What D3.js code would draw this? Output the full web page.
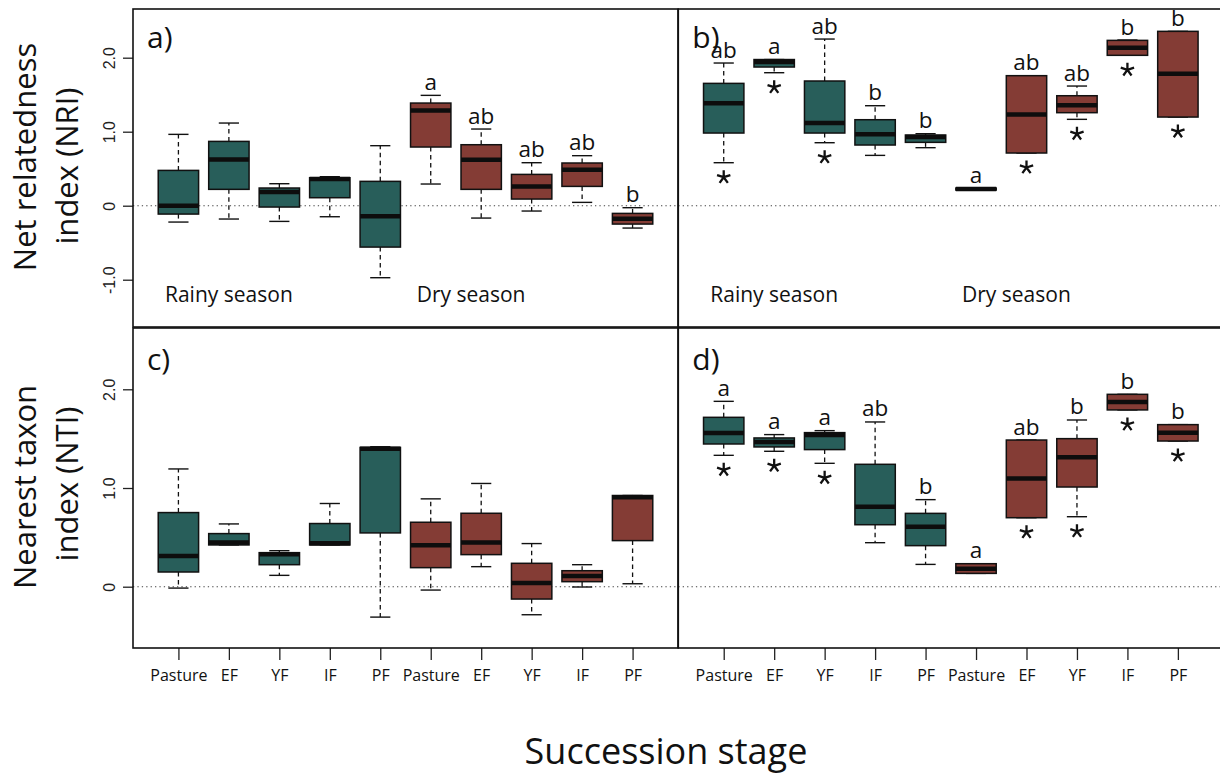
<!DOCTYPE html>
<html><head><meta charset="utf-8">
<script src="https://cdn.jsdelivr.net/npm/d3@7"></script>
<style>body{margin:0;background:#fff}svg{display:block}</style>
</head><body>
<svg id="chart" width="1220" height="774"></svg>
<script>
// ---------- data ----------
const stages = ["Pasture","EF","YF","IF","PF","Pasture","EF","YF","IF","PF"];
const seasons = ["Rainy","Rainy","Rainy","Rainy","Rainy","Dry","Dry","Dry","Dry","Dry"];
// each box: [min, q1, median, q3, max]
const nriPanelA = [
  [-0.221,-0.113, 0.000, 0.477, 0.964],
  [-0.180, 0.221, 0.626, 0.869, 1.117],
  [-0.212,-0.018, 0.185, 0.239, 0.297],
  [-0.149, 0.108, 0.360, 0.378, 0.392],
  [-0.973,-0.559,-0.144, 0.329, 0.811],
  [ 0.293, 0.793, 1.288, 1.387, 1.491],
  [-0.167, 0.221, 0.622, 0.824, 1.036],
  [-0.072, 0.090, 0.261, 0.423, 0.581],
  [ 0.045, 0.261, 0.486, 0.577, 0.676],
  [-0.302,-0.248,-0.176,-0.104,-0.027]
];
const nriPanelB = [
  [0.581, 0.982, 1.383, 1.653, 1.928],
  [1.797, 1.874, 1.941, 1.975, 1.975],
  [0.851, 0.982, 1.117, 1.685, 2.252],
  [0.680, 0.820, 0.964, 1.162, 1.351],
  [0.784, 0.856, 0.928, 0.955, 0.973],
  [0.212, 0.212, 0.225, 0.238, 0.238],
  [0.712, 0.712, 1.234, 1.757, 1.757],
  [1.167, 1.257, 1.356, 1.486, 1.617],
  [2.032, 2.032, 2.135, 2.234, 2.239],
  [1.198, 1.198, 1.784, 2.356, 2.356]
];
const ntiPanelC = [
  [-0.014, 0.149, 0.311, 0.751, 1.193],
  [ 0.423, 0.423, 0.447, 0.538, 0.636],
  [ 0.115, 0.223, 0.328, 0.345, 0.365],
  [ 0.423, 0.423, 0.440, 0.640, 0.843],
  [-0.308, 0.545, 1.398, 1.411, 1.418],
  [-0.034, 0.193, 0.420, 0.653, 0.890],
  [ 0.203, 0.325, 0.447, 0.744, 1.046],
  [-0.284,-0.125, 0.037, 0.237, 0.437],
  [-0.003, 0.051, 0.108, 0.162, 0.223],
  [ 0.030, 0.467, 0.907, 0.924, 0.924]
];
const ntiPanelD = [
  [1.331, 1.446, 1.557, 1.716, 1.878],
  [1.372, 1.416, 1.466, 1.507, 1.541],
  [1.250, 1.389, 1.537, 1.561, 1.581],
  [0.446, 0.628, 0.811, 1.240, 1.669],
  [0.226, 0.416, 0.608, 0.743, 0.882],
  [0.135, 0.135, 0.182, 0.233, 0.233],
  [0.699, 0.699, 1.095, 1.486, 1.486],
  [0.709, 1.010, 1.311, 1.500, 1.689],
  [1.791, 1.791, 1.872, 1.949, 1.949],
  [1.476, 1.476, 1.561, 1.642, 1.642]
];
const lettersA = ["","","","","","a","ab","ab","ab","b"];
const lettersB = ["ab","a","ab","b","b","a","ab","ab","b","b"];
const lettersC = ["","","","","","","","","",""];
const lettersD = ["a","a","a","ab","b","a","ab","b","b","b"];
const starsA = [0,0,0,0,0,0,0,0,0,0];
const starsB = [1,1,1,0,0,0,1,1,1,1];
const starsC = [0,0,0,0,0,0,0,0,0,0];
const starsD = [1,1,1,0,0,0,1,1,1,1];
const nriTicks = [-1, 0, 1, 2];
const nriTickLabels = ["-1.0","0","1.0","2.0"];
const ntiTicks = [0, 1, 2];
const ntiTickLabels = ["0","1.0","2.0"];

// ---------- style ----------
const colour = {Rainy:"#285e5a", Dry:"#843c35"};
const FONT = "'Open Sans', 'Noto Sans', sans-serif";

const svg = d3.select("#chart");
const PW = 545;
const colX = [133, 678.3];
const rows = [
  {top:9, bottom:327, y: d3.scaleLinear().domain([-1.639, 2.658]).range([327, 9]),
   ticks:nriTicks, tickLabels:nriTickLabels,
   title:["Net relatedness","index (NRI)"], titleY:[157,166], labelBase:48},
  {top:328, bottom:648, y: d3.scaleLinear().domain([-0.621, 2.621]).range([648, 328]),
   ticks:ntiTicks, tickLabels:ntiTickLabels,
   title:["Nearest taxon","index (NTI)"], titleY:[487,484], labelBase:370}
];
const panels = [
  {name:"a)", row:0, col:0, data:nriPanelA, letters:lettersA, stars:starsA},
  {name:"b)", row:0, col:1, data:nriPanelB, letters:lettersB, stars:starsB},
  {name:"c)", row:1, col:0, data:ntiPanelC, letters:lettersC, stars:starsC},
  {name:"d)", row:1, col:1, data:ntiPanelD, letters:lettersD, stars:starsD}
];

function starPath(r){
  let p = "";
  for (let k=0;k<5;k++){
    const a = k*72*Math.PI/180;
    p += `M0,0L${(r*Math.sin(a)).toFixed(2)},${(-r*Math.cos(a)).toFixed(2)}`;
  }
  return p;
}

panels.forEach(p => {
  const row = rows[p.row];
  const x0 = colX[p.col];
  const x = d3.scaleLinear().domain([0.1, 10.9]).range([x0, x0 + PW]);
  const y = row.y;
  const unit = x(1) - x(0);
  const hw = 0.4 * unit, sw = 0.2 * unit;
  const g = svg.append("g");

  // zero reference line
  g.append("line")
    .attr("x1", x0).attr("x2", x0 + PW)
    .attr("y1", y(0)).attr("y2", y(0))
    .attr("stroke", "#444").attr("stroke-width", 1.1)
    .attr("stroke-dasharray", "1.3,3.1");

  const boxes = g.selectAll("g.box").data(p.data).join("g").attr("class","box");
  boxes.each(function(d, i){
    const b = d3.select(this);
    const cx = x(i + 1);
    // whiskers
    b.append("line").attr("x1", cx).attr("x2", cx).attr("y1", y(d[3])).attr("y2", y(d[4]))
      .attr("stroke","#111").attr("stroke-width",1.3).attr("stroke-dasharray","4.5,3.5");
    b.append("line").attr("x1", cx).attr("x2", cx).attr("y1", y(d[1])).attr("y2", y(d[0]))
      .attr("stroke","#111").attr("stroke-width",1.3).attr("stroke-dasharray","4.5,3.5");
    // staples
    [d[0], d[4]].forEach(v => {
      b.append("line").attr("x1", cx - sw).attr("x2", cx + sw).attr("y1", y(v)).attr("y2", y(v))
        .attr("stroke","#111").attr("stroke-width",1.4);
    });
    // box
    b.append("rect").attr("x", cx - hw).attr("width", 2*hw)
      .attr("y", y(d[3])).attr("height", Math.max(0.1, y(d[1]) - y(d[3])))
      .attr("fill", colour[seasons[i]]).attr("stroke","#111").attr("stroke-width",1.5);
    // median
    b.append("line").attr("x1", cx - hw).attr("x2", cx + hw).attr("y1", y(d[2])).attr("y2", y(d[2]))
      .attr("stroke","#0d0d0d").attr("stroke-width",4.5);
    // letters
    if (p.letters[i]) {
      b.append("text").attr("x", cx).attr("y", y(d[4]) - 5.5)
        .attr("text-anchor","middle").attr("font-family",FONT).attr("font-size",22.5)
        .attr("fill","#111").text(p.letters[i]);
    }
    // significance asterisk
    if (p.stars[i]) {
      b.append("path").attr("transform", `translate(${cx},${y(d[0]) + 14.5})`)
        .attr("d", starPath(7)).attr("stroke","#111").attr("stroke-width",2.3)
        .attr("stroke-linecap","butt").attr("fill","none");
    }
  });

  // panel label
  svg.append("text").attr("x", x0 + 14).attr("y", row.labelBase)
    .attr("font-family",FONT).attr("font-size",30).attr("fill","#111").text(p.name);

  // season labels in top row
  if (p.row === 0) {
    svg.append("text").attr("x", x(2)).attr("y", 302).attr("text-anchor","middle")
      .attr("font-family",FONT).attr("font-size",21).attr("fill","#111").text("Rainy season");
    svg.append("text").attr("x", x(6.8)).attr("y", 302).attr("text-anchor","middle")
      .attr("font-family",FONT).attr("font-size",21).attr("fill","#111").text("Dry season");
  }

  // y axis on left column
  if (p.col === 0) {
    const ax = svg.append("g").attr("transform", `translate(${x0},0)`)
      .call(d3.axisLeft(y).tickValues(row.ticks)
        .tickFormat((v, k) => row.tickLabels[k]).tickSize(10));
    ax.select(".domain").remove();
    ax.selectAll(".tick line").attr("stroke","#222").attr("stroke-width",1.3);
    ax.selectAll(".tick text")
      .attr("transform","rotate(-90)").attr("x",0).attr("y",-18).attr("dy",0)
      .attr("text-anchor","middle").attr("font-family","'Liberation Sans', Arial, sans-serif")
      .attr("font-size",16).attr("fill","#222");
    // y title
    row.title.forEach((t, k) => {
      svg.append("text").attr("transform", `translate(${k === 0 ? 36 : 78},${row.titleY[k]}) rotate(-90)`)
        .attr("text-anchor","middle").attr("font-family",FONT).attr("font-size",31)
        .attr("fill","#111").text(t);
    });
  }

  // x axis on bottom row
  if (p.row === 1) {
    const ax = svg.append("g").attr("transform", `translate(0,${row.bottom})`)
      .call(d3.axisBottom(x).tickValues(d3.range(1, 11))
        .tickFormat(v => stages[v - 1]).tickSize(12).tickPadding(10));
    ax.select(".domain").remove();
    ax.selectAll(".tick line").attr("stroke","#222").attr("stroke-width",1.3);
    ax.selectAll(".tick text").attr("font-family",FONT).attr("font-size",16).attr("fill","#111");
  }

  // panel frame
  svg.append("rect").attr("x", x0).attr("y", row.top).attr("width", PW)
    .attr("height", row.bottom - row.top).attr("fill","none")
    .attr("stroke","#111").attr("stroke-width",1.6);
});

// x title
svg.append("text").attr("x", 666).attr("y", 764).attr("text-anchor","middle")
  .attr("font-family",FONT).attr("font-size",36).attr("fill","#111").text("Succession stage");
</script>
</body></html>
